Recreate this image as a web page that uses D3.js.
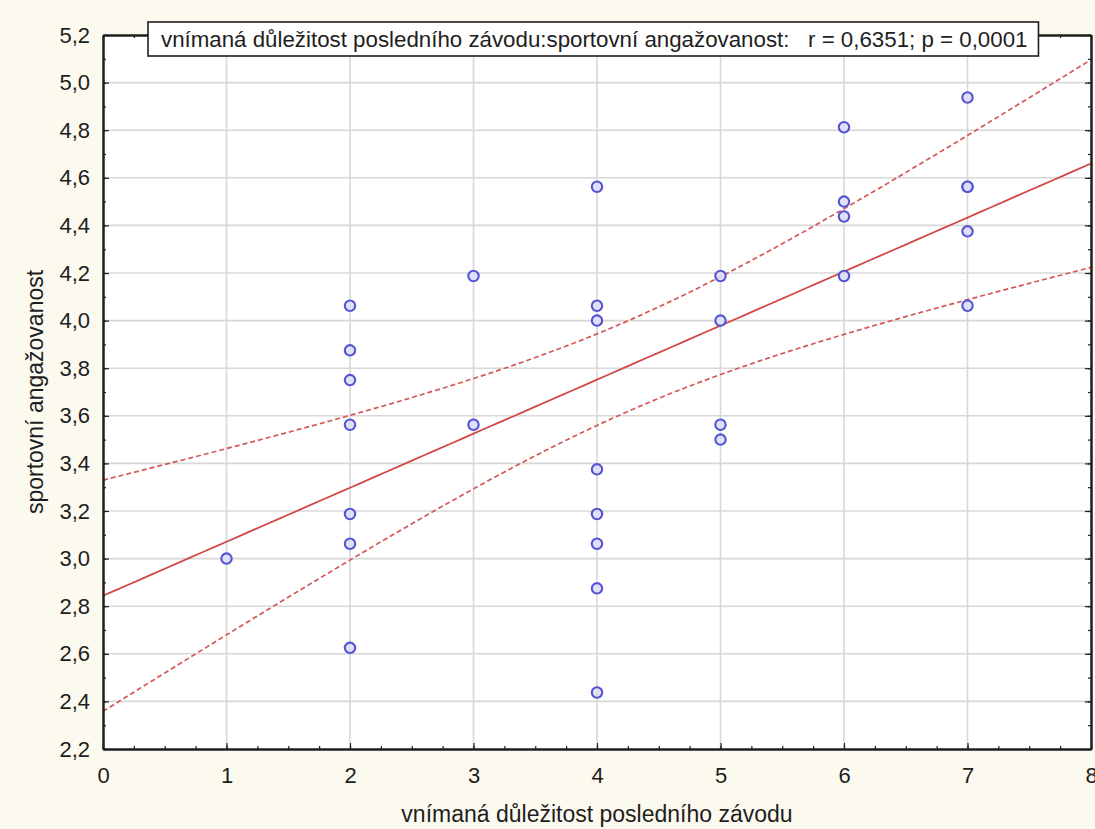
<!DOCTYPE html>
<html>
<head>
<meta charset="utf-8">
<script src="https://cdn.jsdelivr.net/npm/d3@7"></script>
<style>
	body { margin: 0; background: #fcf9ef; }
	svg { display: block; }
	text { font-family: "Liberation Sans", Arial, sans-serif; fill: #1e1e1e; }
</style>
</head>
<body>
<div class="container"></div>
<script>
// values
var importance = [1,
	2, 2, 2, 2, 2, 2, 2,
	3, 3,
	4, 4, 4, 4, 4, 4, 4, 4,
	5, 5, 5, 5,
	6, 6, 6, 6,
	7, 7, 7, 7, 7];
var engagement = [3.0,
	4.0625, 3.875, 3.75, 3.5625, 3.1875, 3.0625, 2.625,
	4.1875, 3.5625,
	4.5625, 4.0625, 4.0, 3.375, 3.1875, 3.0625, 2.875, 2.4375,
	4.1875, 4.0, 3.5625, 3.5,
	4.8125, 4.5, 4.4375, 4.1875,
	4.9375, 4.5625, 4.5625, 4.375, 4.0625];

var xTicks = [0, 1, 2, 3, 4, 5, 6, 7, 8];
var yTicks = [2.2, 2.4, 2.6, 2.8, 3.0, 3.2, 3.4, 3.6, 3.8, 4.0, 4.2, 4.4, 4.6, 4.8, 5.0, 5.2];

var xTitle = "vnímaná důležitost posledního závodu";
var yTitle = "sportovní angažovanost";
var boxTitle = "vnímaná důležitost posledního závodu:sportovní angažovanost:   r = 0,6351; p = 0,0001";
var tCrit = 2.045; // t(29), 95 %

var width = 1095, height = 829;
var margin = {top: 35, right: 4, bottom: 80, left: 103};

var czech = d3.formatLocale({decimal: ",", thousands: " ", grouping: [3], currency: ["", " Kč"]});
var fmt = czech.format(".1f");

function init () {
	var svg = d3.select('.container').append("svg")
		.attr("width", width)
		.attr("height", height);

	var x = d3.scaleLinear().domain([0, 8]).range([margin.left, width - margin.right]);
	var y = d3.scaleLinear().domain([2.2, 5.2]).range([height - margin.bottom, margin.top]);

	svg.append("rect")
		.attr("x", x(0)).attr("y", y(5.2))
		.attr("width", x(8) - x(0)).attr("height", y(2.2) - y(5.2))
		.style("fill", "white");

	svg.append("clipPath").attr("id", "plot")
		.append("rect")
			.attr("x", x(0)).attr("y", y(5.2))
			.attr("width", x(8) - x(0)).attr("height", y(2.2) - y(5.2));

	// grid
	svg.append("g").selectAll("line")
		.data(xTicks.slice(1, -1))
		.enter().append("line")
			.attr("x1", function (d) { return x(d); })
			.attr("x2", function (d) { return x(d); })
			.attr("y1", y(5.2)).attr("y2", y(2.2))
			.style("stroke", "#d8d8d8").style("stroke-width", 1.6);
	svg.append("g").selectAll("line")
		.data(yTicks.slice(1, -1))
		.enter().append("line")
			.attr("y1", function (d) { return y(d); })
			.attr("y2", function (d) { return y(d); })
			.attr("x1", x(0)).attr("x2", x(8))
			.style("stroke", "#d8d8d8").style("stroke-width", 1.6);

	// regression line and 95% band
	var n = importance.length;
	var mx = d3.mean(importance), my = d3.mean(engagement);
	var sxx = d3.sum(importance, function (d) { return (d - mx) * (d - mx); });
	var sxy = d3.sum(importance, function (d, i) { return (d - mx) * (engagement[i] - my); });
	var slope = sxy / sxx, icpt = my - slope * mx;
	var sse = d3.sum(importance, function (d, i) {
		var e = engagement[i] - (icpt + slope * d);
		return e * e;
	});
	var s = Math.sqrt(sse / (n - 2));
	var grid = d3.range(0, 8.001, 0.1);

	function band (sign) {
		return function (d) {
			return icpt + slope * d + sign * tCrit * s * Math.sqrt(1 / n + (d - mx) * (d - mx) / sxx);
		};
	}

	var line = function (f) {
		return d3.line()
			.x(function (d) { return x(d); })
			.y(function (d) { return y(f(d)); });
	};

	var fits = svg.append("g").attr("clip-path", "url(#plot)");
	fits.append("path")
		.attr("d", line(band(0))(grid))
		.style("fill", "none").style("stroke", "#d44848").style("stroke-width", 1.8);
	[1, -1].forEach(function (sign) {
		fits.append("path")
			.attr("d", line(band(sign))(grid))
			.style("fill", "none").style("stroke", "#d45858").style("stroke-width", 1.7)
			.style("stroke-dasharray", "5,3");
	});

	// points
	svg.append("g").selectAll("circle")
		.data(importance)
		.enter().append("circle")
			.attr("cx", function (d) { return x(d); })
			.attr("cy", function (d, i) { return y(engagement[i]); })
			.attr("r", 5.2)
			.style("fill", "#dcdcf8").style("fill-opacity", 0.85)
			.style("stroke", "#5454d2").style("stroke-width", 2.1);

	// axes, ticks point inward
	var minorX = d3.range(0, 8.001, 0.25);
	var minorY = d3.range(2.2, 5.2001, 0.1);

	function axis (gen, major, minor, tx, ty, labels, pad) {
		var g = svg.append("g").attr("transform", "translate(" + tx + "," + ty + ")");
		g.call(gen.tickValues(major).tickSizeInner(-6).tickSizeOuter(0)
			.tickPadding(pad || 0)
			.tickFormat(labels ? labels : ""));
		g.append("g").call(gen.tickValues(minor).tickSizeInner(-3).tickFormat(""));
		g.selectAll("path").style("stroke", "#1e1e1e").style("stroke-width", 2);
		g.selectAll("line").style("stroke", "#1e1e1e").style("stroke-width", 1.2);
		g.selectAll("text").style("font-size", "22px").style("fill", "#1e1e1e").style("font-family", null);
		return g;
	}

	axis(d3.axisLeft(y), yTicks, minorY, x(0), 0, fmt, 13);
	axis(d3.axisRight(y), yTicks, minorY, x(8), 0, null);
	axis(d3.axisTop(x), xTicks, minorX, 0, y(5.2), null);
	axis(d3.axisBottom(x), xTicks, minorX, 0, y(2.2), d3.format("d"), 18);

	// axis titles
	svg.append("text")
		.attr("x", (x(0) + x(8)) / 2).attr("y", 822)
		.attr("text-anchor", "middle")
		.style("font-size", "23px")
		.text(xTitle);
	svg.append("text")
		.attr("transform", "translate(43," + (y(5.2) + y(2.2)) / 2 + ") rotate(-90)")
		.attr("text-anchor", "middle")
		.style("font-size", "23px")
		.text(yTitle);

	// title box
	var box = svg.append("g");
	var rect = box.append("rect")
		.attr("x", 148).attr("y", 22).attr("height", 34)
		.style("fill", "white").style("stroke", "#1e1e1e").style("stroke-width", 1.6);
	var t = box.append("text")
		.attr("x", 161).attr("y", 47)
		.style("font-size", "22.3px")
		.style("white-space", "pre")
		.text(boxTitle);
	rect.attr("width", t.node().getComputedTextLength() + 24);
}

init();
</script>
</body>
</html>
